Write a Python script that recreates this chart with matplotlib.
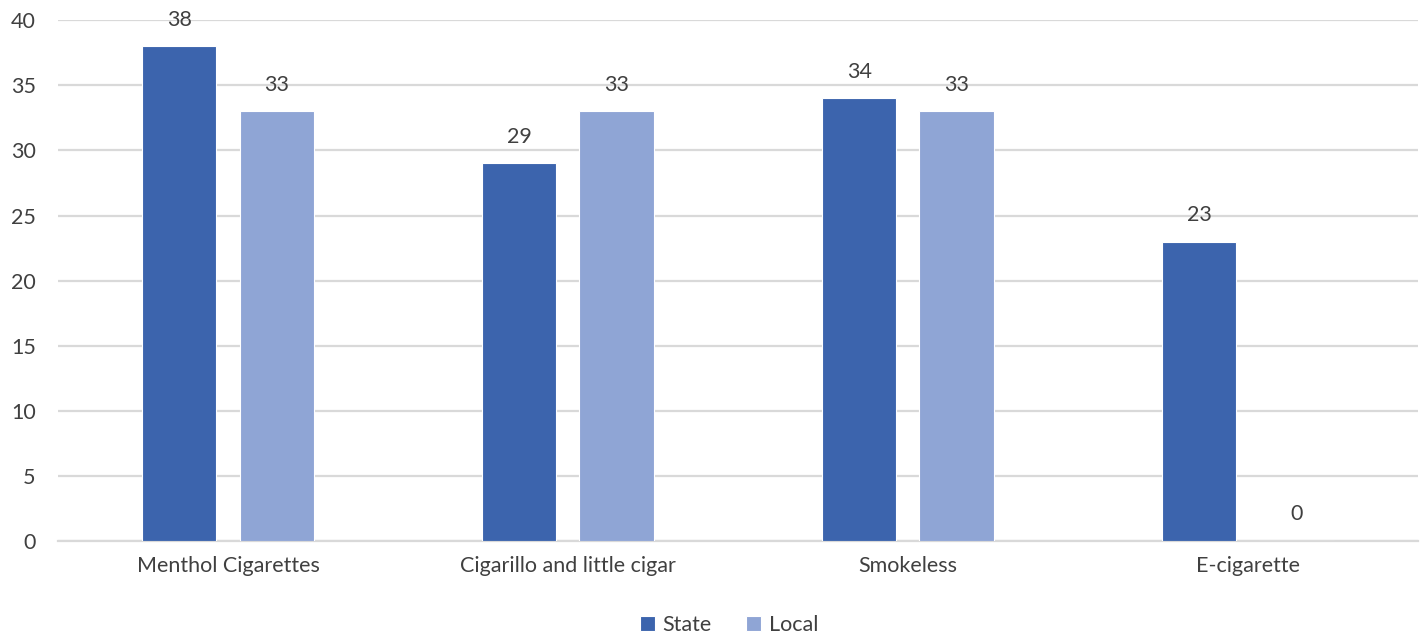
import matplotlib
matplotlib.use("Agg")
import matplotlib.pyplot as plt
import numpy as np

categories = ["Menthol Cigarettes", "Cigarillo and little cigar", "Smokeless", "E-cigarette"]
state = [38, 29, 34, 23]
local = [33, 33, 33, 0]
yticks = [0, 5, 10, 15, 20, 25, 30, 35, 40]

plt.rcParams['font.family'] = ['Lato', 'DejaVu Sans']
txt = "#404040"
c_state = "#3C64AD"
c_local = "#8FA5D5"
fs = 15.5

fig = plt.figure(figsize=(14.24, 6.32), dpi=100)
ax = fig.add_axes([0.0407, 0.144, 0.955, 0.824])

x = np.arange(len(categories))
w = 0.218
off = 0.143
b1 = ax.bar(x - off, state, w, color=c_state, edgecolor="white", linewidth=0.8, label="State", zorder=3)
b2 = ax.bar(x + off, local, w, color=c_local, edgecolor="white", linewidth=0.8, label="Local", zorder=3)

for bars, vals in ((b1, state), (b2, local)):
    for r, v in zip(bars, vals):
        ax.annotate(str(v), (r.get_x() + r.get_width() / 2, v), xytext=(0, 12),
                    textcoords="offset points", ha="center", va="bottom",
                    fontsize=fs, color=txt)

ax.set_xlim(-0.5, 3.5)
ax.set_ylim(0, 40)
ax.set_yticks(yticks)
ax.set_xticks(x)
ax.set_xticklabels(categories)
ax.tick_params(axis="both", length=0, labelsize=fs, labelcolor=txt)
ax.tick_params(axis="y", pad=16)
ax.tick_params(axis="x", pad=11)
ax.yaxis.grid(True, color="#D9D9D9", linewidth=1.6, zorder=0)
for s in ["top", "right", "left"]:
    ax.spines[s].set_visible(False)
ax.spines["bottom"].set_color("#D9D9D9")
ax.spines["bottom"].set_linewidth(1.6)

fig.legend(handles=[b1, b2], loc="lower center", bbox_to_anchor=(0.512, -0.035), ncol=2,
           frameon=False, fontsize=fs, labelcolor=txt, handlelength=0.7, handleheight=0.7,
           handletextpad=0.35, columnspacing=1.6)

fig.savefig("out.png", dpi=100)
